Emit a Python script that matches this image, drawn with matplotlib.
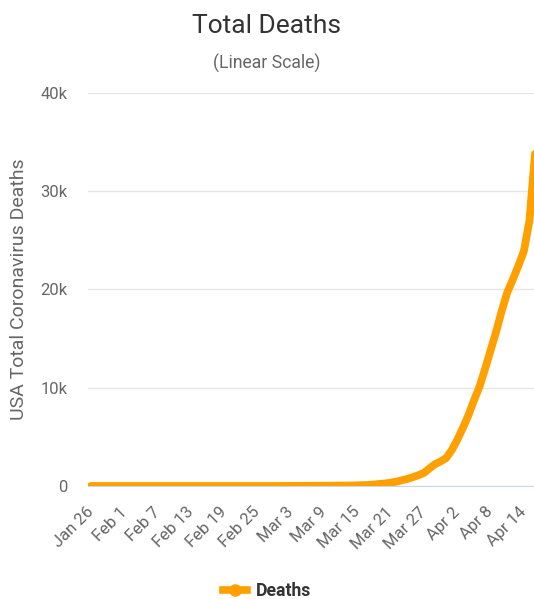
import matplotlib
matplotlib.use("Agg")
import matplotlib.pyplot as plt
from matplotlib.lines import Line2D
from matplotlib.ticker import FuncFormatter

# USA total deaths, one value per day from Jan 26 (one day missing in the feed);
# the last day runs past the cropped right edge
deaths = [0] * 34 + [
    1, 6, 9, 11, 12, 15, 19, 22, 26, 30,
    38, 41, 48, 57, 69, 87, 110, 150, 210, 260,
    340, 440, 580, 720, 900, 1100, 1330, 1800, 2230, 2500,
    2850, 3650, 4700, 5900, 7200, 8700, 10100, 11900, 13800, 15700,
    17800, 19700, 21000, 22400, 23900, 27000, 33800, 36800,
]

tick_labels = ["Jan 26", "Feb 1", "Feb 7", "Feb 13", "Feb 19", "Feb 25", "Mar 3",
               "Mar 9", "Mar 15", "Mar 21", "Mar 27", "Apr 2", "Apr 8", "Apr 14"]
tick_step = 6

y_ticks = [0, 10000, 20000, 30000, 40000]

LINE_COLOR = "#FFA000"
W, H = 534, 599


def k_format(v, pos):
    # 10000 -> 10k, 0 stays 0
    if v == 0:
        return "0"
    return f"{int(v / 1000)}k"


def plot_deaths():
    plt.rcParams['font.family'] = ['Roboto', 'DejaVu Sans']
    fig = plt.figure(figsize=(W / 100, H / 100), dpi=100)

    # plot area runs past the right edge, like the cropped screenshot
    left_px, top_px, bottom_px = 88.2, 93, 486
    n = len(deaths)
    width_px = n * 5.55
    ax = fig.add_axes([left_px / W, (H - bottom_px) / H,
                       width_px / W, (bottom_px - top_px) / H])

    days = list(range(n))
    ax.plot(days, deaths, color=LINE_COLOR, lw=5.6,
            solid_capstyle="round", solid_joinstyle="round", zorder=3)

    ax.set_xlim(-0.5, n - 0.5)
    ax.set_ylim(0, 40000)
    ax.set_yticks(y_ticks)
    ax.yaxis.set_major_formatter(FuncFormatter(k_format))
    ax.set_xticks(range(0, len(tick_labels) * tick_step, tick_step))
    ax.set_xticklabels(tick_labels, rotation=45, ha="right", va="center",
                       rotation_mode="anchor")

    ax.tick_params(axis="both", length=0, labelsize=12, colors="#666666")
    ax.tick_params(axis="y", pad=15)
    ax.tick_params(axis="x", pad=17)

    ax.grid(axis="y", color="#e6e6e6", lw=1)
    ax.set_axisbelow(True)
    for side in ["top", "right", "left"]:
        ax.spines[side].set_visible(False)
    ax.spines["bottom"].set_color("#ccd6eb")

    ax.set_ylabel("USA Total Coronavirus Deaths", fontsize=14, color="#666666")
    ax.yaxis.set_label_coords((28 - left_px) / width_px, 0.5)

    fig.text(0.5, 1 - 26 / H, "Total Deaths", ha="center", va="center",
             fontsize=19, color="#333333")
    fig.text(0.5, 1 - 63 / H, "(Linear Scale)", ha="center", va="center",
             fontsize=12.7, color="#666666")

    handle = Line2D([], [], color=LINE_COLOR, lw=5.5, marker="o", markersize=8)
    fig.legend([handle], ["Deaths"], loc="center", bbox_to_anchor=(0.5, 1 - 591 / H),
               frameon=False, handlelength=1.4, handletextpad=0.5,
               prop={"weight": "bold", "size": 12.7})
    for t in fig.legends[0].get_texts():
        t.set_color("#333333")

    fig.savefig("out.png", dpi=100)


if __name__ == "__main__":
    plot_deaths()
